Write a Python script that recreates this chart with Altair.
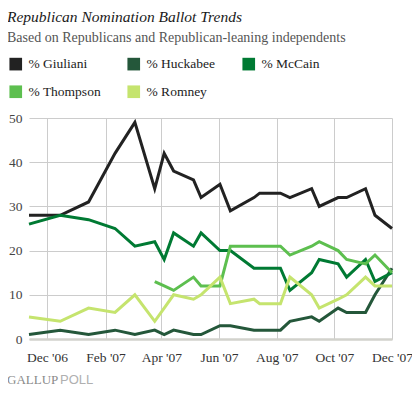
import altair as alt
import pandas as pd

dates = ["2006-11-12", "2006-12-15", "2007-01-14", "2007-02-11", "2007-03-04",
         "2007-03-25", "2007-04-04", "2007-04-14", "2007-05-05", "2007-05-13",
         "2007-06-02", "2007-06-13", "2007-07-08", "2007-07-14", "2007-08-05",
         "2007-08-15", "2007-09-07", "2007-09-15", "2007-10-05", "2007-10-14",
         "2007-11-03", "2007-11-13", "2007-12-01"]
giuliani = [28, 28, 31, 42, 49, 34, 42, 38, 36, 32, 35, 29, 32, 33, 33, 32, 34, 30, 32, 32, 34, 28, 25]
huckabee = [1, 2, 1, 2, 1, 2, 1, 2, 1, 1, 3, 3, 2, 2, 2, 4, 5, 4, 7, 6, 6, 10, 16]
mccain = [26, 28, 27, 25, 21, 22, 18, 24, 21, 24, 20, 20, 16, 16, 16, 11, 15, 18, 17, 14, 18, 13, 15]
thompson = [None, None, None, None, None, 13, 12, 11, 14, 12, 12, 21, 21, 21, 21, 19, 21, 22, 20, 18, 17, 19, 15]
romney = [5, 4, 7, 6, 10, 4, 7, 10, 9, 10, 14, 8, 9, 8, 8, 14, 10, 7, 9, 10, 14, 12, 12]

series = ["% Giuliani", "% Huckabee", "% McCain", "% Thompson", "% Romney"]
colors = ["#222222", "#24573a", "#007a33", "#5dbf4f", "#c5e46e"]
tick_dates = ["2006-12-01", "2007-02-01", "2007-04-01", "2007-06-01",
              "2007-08-01", "2007-10-01", "2007-12-01"]
y_ticks = [0, 10, 20, 30, 40, 50]

rows = []
for name, vals in zip(series, [giuliani, huckabee, mccain, thompson, romney]):
    for d, v in zip(dates, vals):
        if v is not None:
            rows.append({"date": d, "series": name, "value": v})
df = pd.DataFrame(rows)

tick_ms = [int(pd.Timestamp(d).value // 10**6) for d in tick_dates]

serif = "Liberation Serif"

x_enc = alt.X("date:T", title=None,
              scale=alt.Scale(type="utc"),
              axis=alt.Axis(values=tick_ms,
                            labelExpr="utcFormat(datum.value, \"%b '%y\")",
                            grid=True, gridColor="#cccccc", gridWidth=1,
                            ticks=False, domain=True, domainColor="#d2d2cc",
                            domainWidth=2.5, labelFont=serif, labelFontSize=13.5,
                            labelColor="#333333", labelPadding=11,
                            labelOverlap=False, labelFlush=False,
                            labelBound=False))
y_enc = alt.Y("value:Q", title=None,
              scale=alt.Scale(domain=[0, 50]),
              axis=alt.Axis(values=y_ticks, grid=True, gridColor="#cccccc",
                            gridWidth=1, ticks=False, domain=False,
                            labelFont=serif, labelFontSize=13.5,
                            labelColor="#444444", labelPadding=7))
c_enc = alt.Color("series:N",
                  scale=alt.Scale(domain=series, range=colors),
                  sort=series,
                  legend=alt.Legend(
                      title=None, orient="none", legendX=-20, legendY=-61,
                      direction="horizontal",
                      columns=3, symbolType="square", symbolSize=160,
                      symbolStrokeWidth=0, symbolOpacity=1,
                      labelFont=serif, labelFontSize=13.5, labelColor="#222222",
                      columnPadding=26, rowPadding=13, labelOffset=6))

# invisible filled layer so that the legend shows filled squares
keys = alt.Chart(df).mark_square(opacity=0, size=1).encode(
    x=x_enc, y=y_enc, color=c_enc)
lines = alt.Chart(df).mark_line(strokeWidth=3).encode(
    x=x_enc, y=y_enc, color=c_enc)

gallup = alt.Chart(pd.DataFrame({"t": ["GALLUP"]})).mark_text(
    align="left", baseline="alphabetic", font=serif, fontSize=13,
    color="#8a8a8a").encode(text="t:N", x=alt.value(-22), y=alt.value(266))
poll = alt.Chart(pd.DataFrame({"t": ["POLL"]})).mark_text(
    align="left", baseline="alphabetic", font="Liberation Sans", fontSize=13,
    color="#b0b0b0").encode(text="t:N", x=alt.value(31), y=alt.value(266))

chart = alt.layer(keys, lines, gallup, poll).properties(
    width=363, height=221,
    autosize=alt.AutoSizeParams(type="none"),
    padding={"left": 21, "top": 110, "right": 20, "bottom": 52},
    title=alt.TitleParams(
        text="Republican Nomination Ballot Trends",
        subtitle="Based on Republicans and Republican-leaning independents",
        anchor="start", font=serif, fontSize=15.5, fontStyle="italic",
        fontWeight="normal", color="#1a1a1a",
        subtitleFont=serif, subtitleFontSize=14, subtitleColor="#555555",
        subtitlePadding=6, offset=12),
).configure_view(strokeWidth=0)

chart.save("out.html", embed_options={"renderer": "svg", "actions": False})
